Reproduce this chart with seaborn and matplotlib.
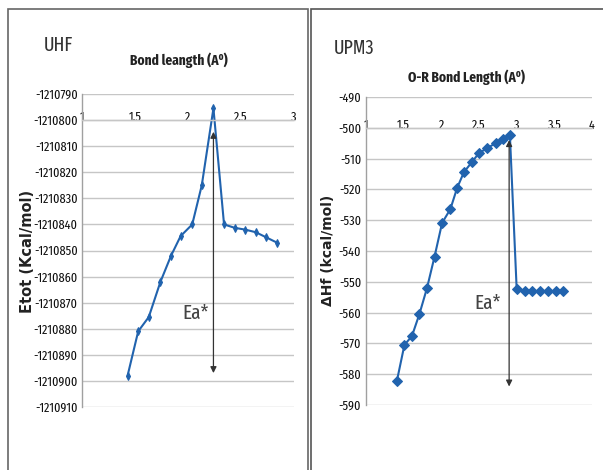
import matplotlib
matplotlib.use("Agg")
import matplotlib.pyplot as plt
import seaborn as sns
from matplotlib.patches import Rectangle
from matplotlib.ticker import FuncFormatter

# ---- data ----
uhf_x = [1.43, 1.53, 1.63, 1.74, 1.84, 1.93, 2.04, 2.13, 2.24, 2.34, 2.44, 2.54, 2.64, 2.74, 2.84]
uhf_y = [-1210898, -1210881, -1210875.5, -1210862, -1210852, -1210844.5, -1210840,
         -1210825, -1210795.5, -1210840, -1210841.3, -1210842, -1210843, -1210845, -1210847]
upm3_x = [1.41, 1.51, 1.61, 1.71, 1.81, 1.91, 2.01, 2.12, 2.21, 2.30, 2.41, 2.50,
          2.61, 2.72, 2.82, 2.91, 3.00, 3.11, 3.21, 3.31, 3.41, 3.52, 3.62]
upm3_y = [-582.2, -570.5, -567.6, -560.4, -552, -541.8, -530.9, -526.4, -519.5, -514.4,
          -511, -508.2, -506.6, -505, -503.6, -502.3, -552.3, -553, -553, -553, -553, -553, -553]
uhf_xticks = [1, 1.5, 2, 2.5, 3]
uhf_yticks = list(range(-1210910, -1210789, 10))
upm3_xticks = [1, 1.5, 2, 2.5, 3, 3.5, 4]
upm3_yticks = list(range(-590, -489, 10))

sns.set_style("white")
NARROW = ["Fira Sans Extra Condensed", "DejaVu Sans"]
plt.rcParams["font.family"] = NARROW
plt.rcParams["axes.unicode_minus"] = False

W, H = 603, 470
fig = plt.figure(figsize=(W / 100, H / 100), dpi=100)

def fx(px):
    return px / W

def fy(py):
    return 1 - py / H

# panel borders
fig.patches.append(Rectangle((fx(8), fy(475)), fx(300), fy(9) - fy(475),
                             transform=fig.transFigure, fill=False, ec="#666666", lw=1.2))
fig.patches.append(Rectangle((fx(311), fy(475)), fx(300), fy(9) - fy(475),
                             transform=fig.transFigure, fill=False, ec="#555555", lw=1.2))

line_color = "#2163ae"
grid_color = "#c6c6c6"


def style_axis(ax, xlim, ylim, xticks, yticks, xcross, ypad, yfmt):
    ax.set_xlim(*xlim)
    ax.set_ylim(*ylim)
    ax.set_xticks(xticks)
    ax.set_yticks(yticks)
    ax.xaxis.set_major_formatter(FuncFormatter(lambda v, p: f"{v:g}"))
    ax.yaxis.set_major_formatter(FuncFormatter(yfmt))
    ax.grid(axis="y", color=grid_color, lw=1)
    ax.grid(axis="x", visible=False)
    for s in ["top", "right"]:
        ax.spines[s].set_visible(False)
    ax.spines["left"].set_color("#a0a0a0")
    ax.spines["left"].set_linewidth(1)
    ax.spines["bottom"].set_position(("data", xcross))
    ax.spines["bottom"].set_color(grid_color)
    ax.spines["bottom"].set_linewidth(1)
    ax.tick_params(axis="x", length=0, pad=-6.5, labelsize=9.5, colors="#111111")
    ax.tick_params(axis="y", length=0, pad=ypad, labelsize=9.5, colors="#111111")
    ax.set_xlabel("")
    ax.set_ylabel("")
    ax.set_facecolor("none")


# ---- UHF panel ----
ax1 = fig.add_axes([fx(82), fy(407), fx(294) - fx(82), fy(94) - fy(407)])
sns.lineplot(x=uhf_x, y=uhf_y, ax=ax1, color=line_color, lw=1.5, marker="d",
             markersize=4, markeredgecolor=line_color, sort=False)
style_axis(ax1, (1, 3), (-1210910, -1210790), uhf_xticks, uhf_yticks, -1210800, 3,
           lambda v, p: f"{int(round(v))}")
ax1.annotate("", xy=(2.24, -1210897), xytext=(2.24, -1210804.5),
             arrowprops=dict(arrowstyle="<|-|>", color="#333333", lw=0.9,
                             mutation_scale=9, shrinkA=0, shrinkB=0))
ax1.text(2.075, -1210874, "Ea*", ha="center", va="center", fontsize=15, color="#444444")

fig.text(fx(44), fy(45), "UHF", ha="left", va="center", fontsize=14, color="#333333")
fig.text(fx(179), fy(60), "Bond leangth (A⁰)", ha="center", va="center",
         fontsize=10.5, fontweight="bold", color="#222222", family=NARROW)
fig.text(fx(28), fy(251), "Etot (Kcal/mol)", ha="center", va="center", rotation=90,
         fontsize=10.5, fontweight="bold", color="#222222", family=["DejaVu Sans"])

# ---- UPM3 panel ----
ax2 = fig.add_axes([fx(366), fy(405), fx(592) - fx(366), fy(97) - fy(405)])
sns.lineplot(x=upm3_x, y=upm3_y, ax=ax2, color=line_color, lw=1.5, marker="D",
             markersize=5, markeredgecolor=line_color, sort=False)
style_axis(ax2, (1, 4), (-590, -490), upm3_xticks, upm3_yticks, -500, 3.5,
           lambda v, p: f"{int(round(v))}")
ax2.annotate("", xy=(2.9, -584), xytext=(2.9, -504),
             arrowprops=dict(arrowstyle="<|-|>", color="#333333", lw=0.9,
                             mutation_scale=9, shrinkA=0, shrinkB=0))
ax2.text(2.62, -557, "Ea*", ha="center", va="center", fontsize=15, color="#444444")

fig.text(fx(334), fy(48), "UPM3", ha="left", va="center", fontsize=14, color="#333333")
fig.text(fx(466), fy(77), "O-R Bond Length (A⁰)", ha="center", va="center",
         fontsize=10.5, fontweight="bold", color="#222222", family=NARROW)
fig.text(fx(328), fy(250), "ΔHf (kcal/mol)", ha="center", va="center", rotation=90,
         fontsize=10, fontweight="bold", color="#222222", family=["DejaVu Sans"])

fig.savefig("out.png", dpi=100)
